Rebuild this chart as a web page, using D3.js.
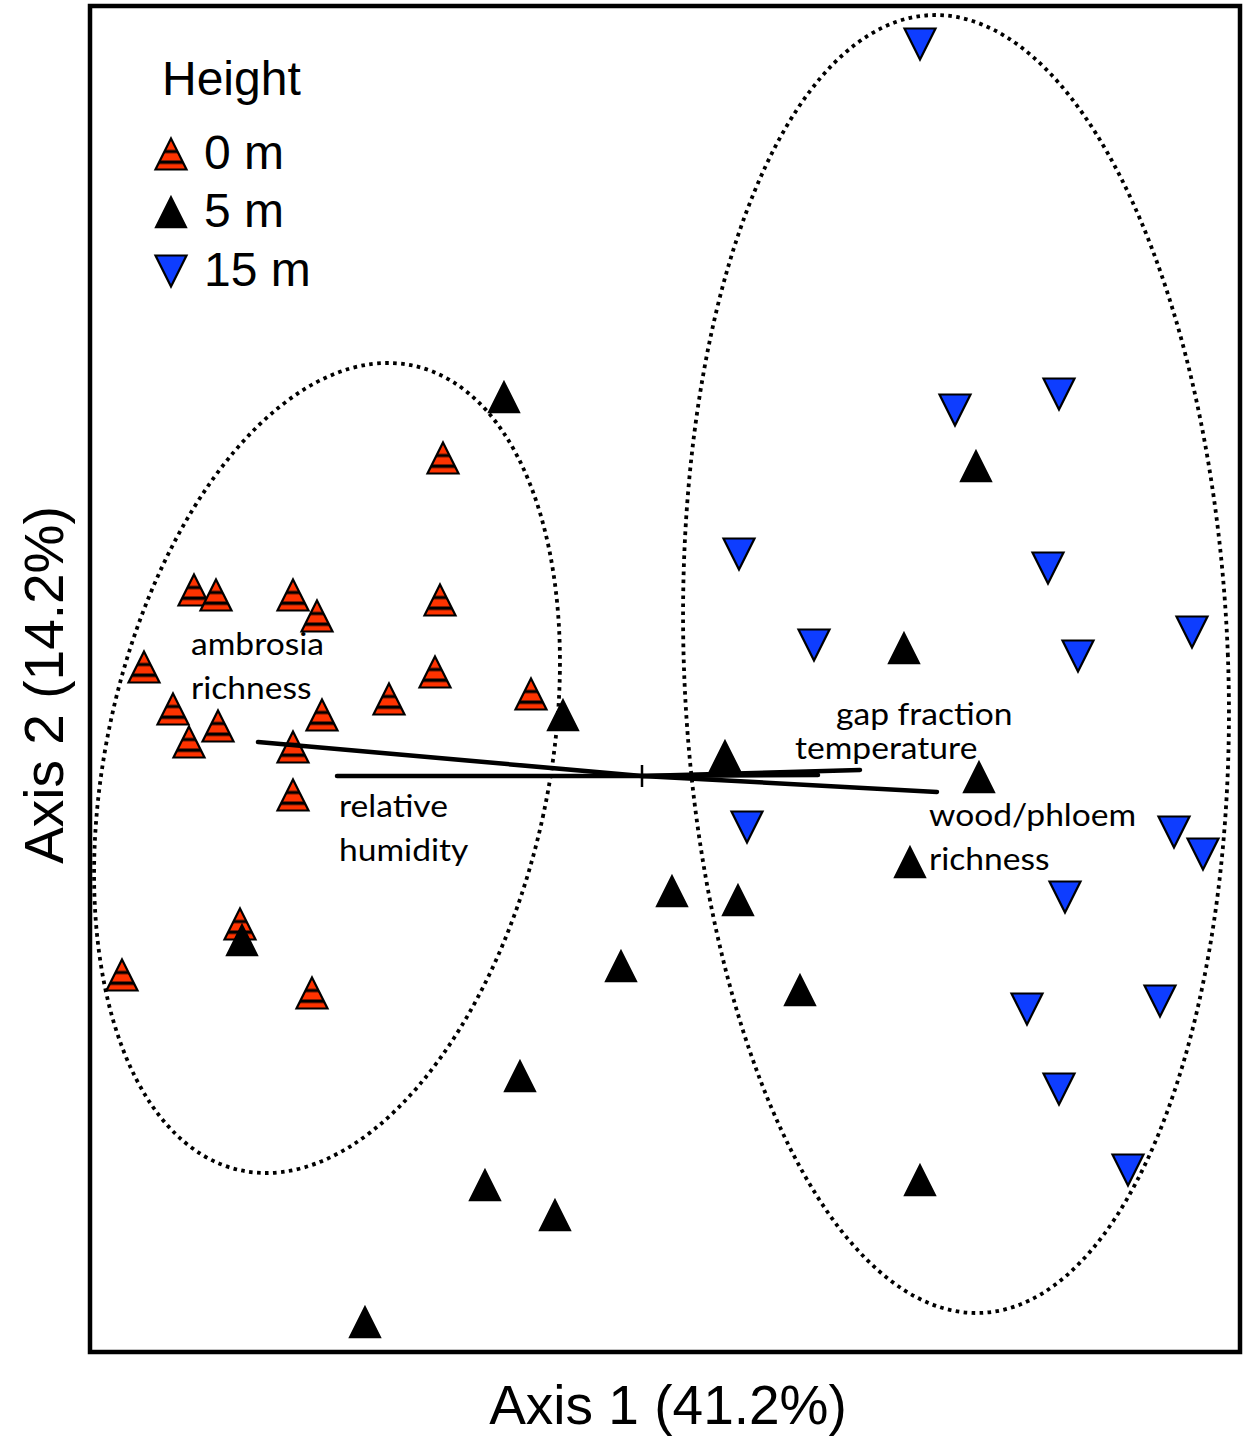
<!DOCTYPE html>
<html>
<head>
<meta charset="utf-8">
<script src="https://cdn.jsdelivr.net/npm/d3@7"></script>
<style>
  body { margin: 0; background: #fff; }
  svg { display: block; }
</style>
</head>
<body>
<svg id="chart" width="1243" height="1437"></svg>
<script>
// Ordination of bark-beetle trap samples: site scores on Axis 1 and Axis 2, by trap height
const heightLevels = ["0 m", "5 m", "15 m"];

const axis1_0m = [-0.995, -2.24, -2.13, -1.745, -1.625, -1.01, -2.49, -1.035, -2.345, -2.12,
                  -2.265, -1.60, -1.265, -0.555, -1.745, -1.745, -2.01, -2.60, -1.65];
const axis2_0m = [1.59, 0.93, 0.905, 0.905, 0.80, 0.88, 0.545, 0.52, 0.335, 0.25,
                  0.17, 0.305, 0.385, 0.41, 0.145, -0.095, -0.74, -0.995, -1.085];

const axis1_5m = [-0.69, 1.67, 1.31, -0.395, 0.415, 1.685, 1.34, 0.15, 0.48, -2.00,
                  -0.105, 0.79, -0.61, -0.785, -0.435, 1.39, -1.385];
const axis2_5m = [1.895, 1.55, 0.64, 0.305, 0.10, -0.005, -0.43, -0.575, -0.62, -0.82,
                  -0.95, -1.07, -1.50, -2.045, -2.195, -2.02, -2.73];

const axis1_15m = [1.39, 2.085, 1.565, 0.485, 2.03, 0.86, 2.75, 2.18, 0.525, 2.66,
                   2.805, 2.115, 1.925, 2.59, 2.085, 2.43];
const axis2_15m = [3.66, 1.91, 1.83, 1.11, 1.04, 0.655, 0.72, 0.60, -0.255, -0.28,
                   -0.39, -0.605, -1.165, -1.125, -1.565, -1.97];

// Environmental vectors (biplot arrows from the centroid)
const vectorLines = [["ambrosia", "richness"], ["relative", "humidity"], ["gap fraction"], ["temperature"], ["wood/phloem", "richness"]];
const vectorAxis1 = [-1.92, -1.525, 1.09, 0.88, 1.475];
const vectorAxis2 = [0.17, 0.0, 0.03, 0.005, -0.08];

// Group ellipses (0 m cluster, 15 m cluster): centre, semi-axes, rotation in degrees
const ellipseCx = [-1.575, 1.57];
const ellipseCy = [0.04, 0.56];
const ellipseRx = [1.1065, 1.36];
const ellipseRy = [2.0575, 3.247];
const ellipseAngle = [12.1, -2.2];

const axisTitles = ["Axis 1 (41.2%)", "Axis 2 (14.2%)"];
const legendTitle = "Height";

// ---------------------------------------------------------------- layout
const svg = d3.select("#chart");
const x = d3.scaleLinear().domain([-2.76, 2.99]).range([90, 1240]);
const y = d3.scaleLinear().domain([-2.88, 3.85]).range([1352, 6]);

const RED = "#ff3300", BLUE = "#0e3dff";
const sansFont = "'Liberation Sans', Arial, sans-serif";
const labelFont = "Lato, 'Open Sans', sans-serif";

// striped fill for the 0 m markers
const defs = svg.append("defs");
const pat = defs.append("pattern")
  .attr("id", "stripes")
  .attr("patternUnits", "objectBoundingBox")
  .attr("patternContentUnits", "objectBoundingBox")
  .attr("width", 1).attr("height", 1);
pat.append("rect").attr("width", 1).attr("height", 1).attr("fill", RED);
pat.append("rect").attr("y", 0.37).attr("width", 1).attr("height", 0.10).attr("fill", "#000");
pat.append("rect").attr("y", 0.71).attr("width", 1).attr("height", 0.11).attr("fill", "#000");

function triangle(dir, hw, hh) {
  const p = d3.path();
  if (dir > 0) { p.moveTo(0, -hh); p.lineTo(hw, hh); p.lineTo(-hw, hh); }
  else { p.moveTo(-hw, -hh); p.lineTo(hw, -hh); p.lineTo(0, hh); }
  p.closePath();
  return p.toString();
}
const upPath = triangle(1, 15.5, 15.5);
const downPath = triangle(-1, 15.5, 15.5);

const markerStyle = [
  { path: upPath, fill: "url(#stripes)", stroke: "#000", sw: 2.2 },
  { path: upPath, fill: "#000", stroke: "#000", sw: 1.5 },
  { path: downPath, fill: BLUE, stroke: "#000", sw: 2.2 }
];

// ellipses
const ellipses = d3.range(ellipseCx.length).map(i => ({
  cx: x(ellipseCx[i]), cy: y(ellipseCy[i]),
  rx: x(ellipseRx[i]) - x(0), ry: y(0) - y(ellipseRy[i]), a: ellipseAngle[i]
}));
svg.append("g").selectAll("ellipse").data(ellipses).join("ellipse")
  .attr("cx", d => d.cx).attr("cy", d => d.cy)
  .attr("rx", d => d.rx).attr("ry", d => d.ry)
  .attr("transform", d => `rotate(${d.a},${d.cx},${d.cy})`)
  .attr("fill", "none").attr("stroke", "#000")
  .attr("stroke-width", 3.8).attr("stroke-dasharray", "3.6 4.4");

// samples
const groups = [
  { a1: axis1_0m, a2: axis2_0m },
  { a1: axis1_5m, a2: axis2_5m },
  { a1: axis1_15m, a2: axis2_15m }
];
const pointsLayer = svg.append("g");
groups.forEach((g, gi) => {
  const st = markerStyle[gi];
  const pts = g.a1.map((v, i) => [v, g.a2[i]]);
  pointsLayer.append("g").selectAll("path").data(pts).join("path")
    .attr("d", st.path)
    .attr("transform", d => `translate(${x(d[0])},${y(d[1])})`)
    .attr("fill", st.fill).attr("stroke", st.stroke)
    .attr("stroke-width", st.sw).attr("stroke-linejoin", "miter");
});

// biplot vectors
const vecLayer = svg.append("g");
vectorAxis1.forEach((v, i) => {
  vecLayer.append("line")
    .attr("x1", x(0)).attr("y1", y(0))
    .attr("x2", x(v)).attr("y2", y(vectorAxis2[i]))
    .attr("stroke", "#000").attr("stroke-width", 4.5).attr("stroke-linecap", "round");
});
// centroid tick
vecLayer.append("line")
  .attr("x1", x(0)).attr("x2", x(0)).attr("y1", y(0) - 11).attr("y2", y(0) + 11)
  .attr("stroke", "#000").attr("stroke-width", 2.5);

// vector labels: left edge / first baseline in pixels
const labelPos = [[191, 655], [339, 817], [836, 725], [795, 759], [929, 826]];
const labelLayer = svg.append("g")
  .attr("font-family", labelFont).attr("font-size", 30).attr("fill", "#000");
vectorLines.forEach((lines, i) => {
  const g = labelLayer.append("g")
    .attr("transform", `translate(${labelPos[i][0]},${labelPos[i][1]}) scale(1.12,1)`);
  lines.forEach((t, j) => g.append("text").attr("x", 0).attr("y", j * 44).text(t));
});

// frame
svg.append("rect")
  .attr("x", x.range()[0]).attr("y", y.range()[1])
  .attr("width", x.range()[1] - x.range()[0])
  .attr("height", y.range()[0] - y.range()[1])
  .attr("fill", "none").attr("stroke", "#000").attr("stroke-width", 4.5);

// axis titles
svg.append("text")
  .attr("x", 668).attr("y", 1424)
  .attr("text-anchor", "middle")
  .attr("font-family", sansFont).attr("font-size", 55)
  .text(axisTitles[0]);
svg.append("text")
  .attr("transform", "translate(63,685) rotate(-90)")
  .attr("text-anchor", "middle")
  .attr("font-family", sansFont).attr("font-size", 55)
  .text(axisTitles[1]);

// legend
const legend = svg.append("g").attr("font-family", sansFont).attr("font-size", 48);
legend.append("text").attr("x", 162).attr("y", 95).text(legendTitle);
const legendY = [154, 212, 271];
heightLevels.forEach((lab, i) => {
  const st = markerStyle[i];
  legend.append("path").attr("d", st.path)
    .attr("transform", `translate(171,${legendY[i]})`)
    .attr("fill", st.fill).attr("stroke", st.stroke).attr("stroke-width", st.sw);
  legend.append("text").attr("x", 204).attr("y", legendY[i] + 15).text(lab);
});
</script>
</body>
</html>
